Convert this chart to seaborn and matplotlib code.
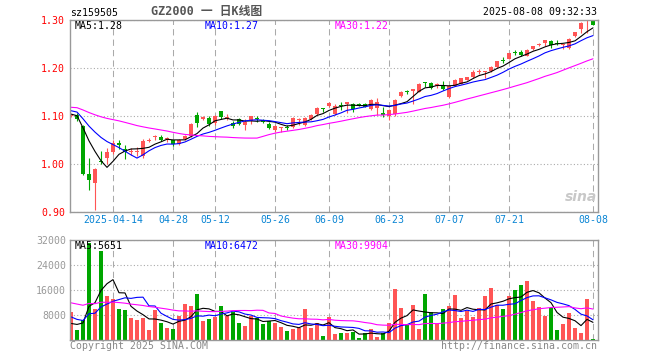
import matplotlib
matplotlib.use("Agg")
import matplotlib.pyplot as plt
import seaborn as sns
import pandas as pd
import numpy as np

sns.set_theme(style="white")
plt.rcParams['font.family'] = ['DejaVu Sans Mono', 'Noto Sans CJK SC']

RED = "#FF5555"
GREEN = "#00A600"
FRAME = "#999999"
GRID = "#aaaaaa"

# trading days in the window (exchange holidays removed)
holidays = ["2025-04-04", "2025-05-01", "2025-05-02", "2025-05-05", "2025-06-02"]
days = pd.bdate_range("2025-04-02", "2025-08-08")
days = days[~days.isin(pd.to_datetime(holidays))]

open_ = [1.100, 1.102, 1.079, 0.980, 0.960, 1.006, 1.013, 1.026, 1.044, 1.032,
         1.025, 1.025, 1.017, 1.049, 1.056, 1.057, 1.052, 1.049, 1.041, 1.052,
         1.058, 1.103, 1.094, 1.095, 1.086, 1.111, 1.097, 1.086, 1.093, 1.082,
         1.089, 1.095, 1.092, 1.084, 1.071, 1.075, 1.077, 1.078, 1.093, 1.082,
         1.094, 1.105, 1.116, 1.120, 1.105, 1.122, 1.125, 1.125, 1.124, 1.126,
         1.115, 1.117, 1.107, 1.099, 1.105, 1.141, 1.151, 1.152, 1.151, 1.171,
         1.169, 1.162, 1.165, 1.140, 1.163, 1.167, 1.176, 1.181, 1.193, 1.191,
         1.193, 1.202, 1.217, 1.219, 1.233, 1.233, 1.226, 1.240, 1.247, 1.253,
         1.257, 1.251, 1.249, 1.242, 1.267, 1.282, 1.297, 1.300]
high = [1.104, 1.106, 1.081, 1.013, 0.992, 1.027, 1.034, 1.050, 1.049, 1.039,
        1.034, 1.036, 1.052, 1.055, 1.061, 1.061, 1.057, 1.051, 1.052, 1.061,
        1.085, 1.108, 1.101, 1.100, 1.103, 1.111, 1.105, 1.090, 1.096, 1.093,
        1.100, 1.100, 1.094, 1.087, 1.082, 1.078, 1.081, 1.097, 1.096, 1.098,
        1.104, 1.118, 1.117, 1.129, 1.124, 1.130, 1.130, 1.127, 1.127, 1.127,
        1.135, 1.137, 1.118, 1.114, 1.136, 1.152, 1.155, 1.156, 1.169, 1.171,
        1.171, 1.169, 1.172, 1.165, 1.177, 1.180, 1.182, 1.195, 1.197, 1.193,
        1.205, 1.214, 1.222, 1.232, 1.238, 1.238, 1.239, 1.246, 1.252, 1.259,
        1.258, 1.259, 1.250, 1.262, 1.276, 1.295, 1.300, 1.301]
low = [1.097, 1.090, 0.978, 0.945, 0.905, 0.999, 1.001, 1.020, 1.032, 1.010,
       1.019, 1.017, 1.012, 1.046, 1.051, 1.047, 1.046, 1.037, 1.039, 1.050,
       1.057, 1.078, 1.092, 1.079, 1.082, 1.094, 1.091, 1.076, 1.081, 1.070,
       1.084, 1.087, 1.085, 1.073, 1.066, 1.066, 1.071, 1.074, 1.082, 1.080,
       1.092, 1.103, 1.109, 1.118, 1.102, 1.113, 1.106, 1.108, 1.120, 1.118,
       1.112, 1.103, 1.098, 1.091, 1.101, 1.139, 1.145, 1.124, 1.149, 1.160,
       1.157, 1.158, 1.154, 1.138, 1.162, 1.166, 1.175, 1.179, 1.188, 1.179,
       1.191, 1.201, 1.211, 1.218, 1.228, 1.226, 1.225, 1.237, 1.246, 1.245,
       1.242, 1.248, 1.240, 1.240, 1.265, 1.273, 1.273, 1.289]
close = [1.102, 1.093, 0.980, 0.966, 0.990, 1.005, 1.024, 1.043, 1.039, 1.024,
         1.026, 1.026, 1.048, 1.050, 1.057, 1.050, 1.053, 1.041, 1.050, 1.058,
         1.083, 1.085, 1.098, 1.084, 1.100, 1.097, 1.098, 1.080, 1.084, 1.088,
         1.099, 1.094, 1.087, 1.076, 1.080, 1.076, 1.076, 1.096, 1.094, 1.096,
         1.103, 1.117, 1.115, 1.127, 1.120, 1.121, 1.130, 1.115, 1.123, 1.119,
         1.134, 1.130, 1.102, 1.113, 1.134, 1.150, 1.150, 1.156, 1.167, 1.170,
         1.158, 1.167, 1.156, 1.163, 1.176, 1.179, 1.181, 1.191, 1.194, 1.193,
         1.203, 1.214, 1.216, 1.231, 1.232, 1.228, 1.238, 1.245, 1.251, 1.258,
         1.248, 1.250, 1.250, 1.260, 1.275, 1.294, 1.299, 1.290]
volume = [9000, 3200, 6500, 31000, 10000, 28600, 14000, 13000, 10000, 9700,
          7200, 6400, 7200, 3200, 9600, 5400, 3800, 3500, 7600, 11500,
          10900, 14700, 6000, 6700, 7500, 10800, 7600, 9100, 5300, 4400,
          7800, 7000, 5100, 6000, 5300, 4300, 2800, 3500, 3700, 9800,
          3800, 5300, 1400, 7400, 1900, 2100, 2100, 2600, 750, 2100,
          3500, 1100, 2100, 5300, 16300, 10200, 5100, 11200, 3500, 14800,
          9000, 5000, 9900, 11000, 14500, 7100, 9400, 7250, 10200, 14100,
          16600, 11300, 9800, 14100, 16000, 17600, 18800, 12600, 10500, 7600,
          10200, 3200, 5000, 8500, 3900, 2400, 13200, 250]

# sessions before the window, only used so the moving averages start where the chart shows them
close_before = [1.118, 1.122, 1.127, 1.131, 1.129, 1.125, 1.120, 1.116, 1.119, 1.124,
                1.128, 1.126, 1.122, 1.118, 1.115, 1.117, 1.121, 1.123, 1.119, 1.114,
                1.121, 1.120, 1.118, 1.116, 1.115, 1.110, 1.106, 1.102, 1.100]
volume_before = [15200, 17800, 13600, 12400, 14900, 14800, 11300, 13900, 15600, 16200,
                 12700, 14100, 13300, 16200, 14500, 12100, 13800, 15100, 11900, 13600,
                 11200, 10100, 9300, 8400, 8500, 4800, 4100, 4500, 4100]

tick_days = ["2025-04-14", "2025-04-28", "2025-05-12", "2025-05-26", "2025-06-09",
             "2025-06-23", "2025-07-07", "2025-07-21", "2025-08-08"]
tick_labels = ["2025-04-14", "04-28", "05-12", "05-26", "06-09",
               "06-23", "07-07", "07-21", "08-08"]

df = pd.DataFrame({"day": days, "open": open_, "high": high, "low": low,
                   "close": close, "volume": volume})
df["i"] = np.arange(len(df))
df["dir"] = np.where(df["close"] >= df["open"], "up", "down")
n_before = len(close_before)
full_close = pd.Series(close_before + close)
full_vol = pd.Series(volume_before + volume)
ma_colors = {5: "black", 10: "#0000FF", 30: "#FF00FF"}
price_ma = {k: full_close.rolling(k).mean().iloc[n_before:].values for k in ma_colors}
vol_ma = {k: full_vol.rolling(k).mean().iloc[n_before:].values for k in ma_colors}
tick_pos = [int(np.where(df["day"] == pd.Timestamp(d))[0][0]) for d in tick_days]

W, H = 660, 360
fig = plt.figure(figsize=(6.6, 3.6), dpi=100)
ax = fig.add_axes([70 / W, 1 - 212 / H, 528 / W, 192 / H])
axv = fig.add_axes([70 / W, 20 / H, 528 / W, 100 / H])
xlim = (-1 / 6, 87 + 5 / 6)

# candles
colors = df["dir"].map({"up": RED, "down": GREEN})
body_h = (df["close"] - df["open"]).abs().clip(lower=0.0018)
body_mid = (df["close"] + df["open"]) / 2
ax.vlines(df["i"], df["low"], df["high"], colors=colors, lw=0.8)
ax.bar(df["i"], body_h, bottom=body_mid - body_h / 2, width=0.8, color=colors, lw=0)
for k, c in ma_colors.items():
    sns.lineplot(x=df["i"], y=price_ma[k], color=c, lw=0.8, estimator=None, ax=ax)

# volume
sns.barplot(data=df, x="i", y="volume", hue="dir", palette={"up": RED, "down": GREEN},
            dodge=False, width=0.8, errorbar=None, legend=False, saturation=1,
            linewidth=0, ax=axv)
for k, c in ma_colors.items():
    sns.lineplot(x=df["i"].values, y=vol_ma[k], color=c, lw=0.8, estimator=None, ax=axv)

for a in (ax, axv):
    a.set_xlim(*xlim)
    a.set_xlabel("")
    a.set_ylabel("")
    a.set_xticks(tick_pos)
    a.xaxis.grid(True, color=GRID, ls=(0, (6, 4)), lw=0.75)
    a.yaxis.grid(True, color=GRID, ls=(0, (1, 2)), lw=0.8)
    a.set_axisbelow(True)
    a.tick_params(length=0, labelsize=7.1)
    for s in a.spines.values():
        s.set_color(FRAME)
        s.set_linewidth(1.0)

ax.set_ylim(0.90, 1.30)
ax.set_yticks([0.90, 1.00, 1.10, 1.20, 1.30])
ax.set_yticklabels(["0.90", "1.00", "1.10", "1.20", "1.30"], color="#FF0000")
ax.set_xticklabels(tick_labels, color="#0A85D4")
ax.tick_params(axis="x", pad=2.5)
ax.tick_params(axis="y", pad=3.6)

axv.set_ylim(0, 32000)
axv.set_yticks([8000, 16000, 24000, 32000])
axv.set_yticklabels(["8000", "16000", "24000", "32000"], color="#999999")
axv.set_xticklabels([])
axv.tick_params(axis="y", pad=2.9)


def put(x, y, s, **kw):
    fig.text(x / W, 1 - y / H, s, va="center", **kw)


put(70, 13, "sz159505", fontsize=7.1, color="black")
put(151, 12, "GZ2000 一 日K线图", fontsize=8.5, color="#555555", fontweight="bold")
put(597, 12, "2025-08-08 09:32:33", fontsize=7.1, color="black", ha="right")

put(75, 26, "MA5:1.28", fontsize=7.1, color="black")
put(205, 26, "MA10:1.27", fontsize=7.1, color="#0000FF")
put(335, 26, "MA30:1.22", fontsize=7.1, color="#FF00FF")
put(75, 246, "MA5:5651", fontsize=7.1, color="black")
put(205, 246, "MA10:6472", fontsize=7.1, color="#0000FF")
put(335, 246, "MA30:9904", fontsize=7.1, color="#FF00FF")

put(70, 346, "Copyright 2025 SINA.COM", fontsize=7.1, color="#888888")
put(597, 346, "http://finance.sina.com.cn", fontsize=7.1, color="#888888", ha="right")
put(597, 197, "sina", fontsize=10, color="#c8c8c8", ha="right",
    fontstyle="italic", fontweight="bold", family="DejaVu Sans")

fig.savefig("out.png", dpi=100)
